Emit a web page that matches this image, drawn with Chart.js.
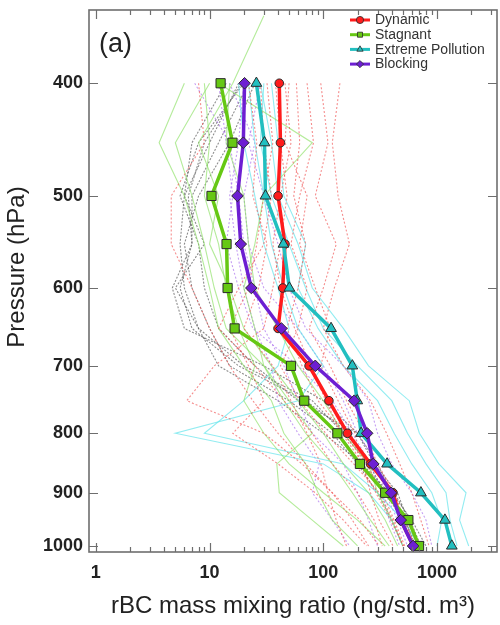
<!DOCTYPE html>
<html lang="en">
<head>
<meta charset="UTF-8">
<title>rBC profiles</title>
<script src="https://cdn.jsdelivr.net/npm/chart.js"></script>
<style>
  html, body { margin: 0; padding: 0; background: #fff; }
</style>
</head>
<body>
<canvas id="profiles" width="500" height="625"></canvas>
<script>
// pressure levels (hPa), first one only used by a single case
const levels = [350, 400, 450, 500, 550, 600, 650, 700, 750, 800, 850, 900, 950, 1000];
const yTicks = [400, 500, 600, 700, 800, 900, 1000];
const xTicks = [1, 10, 100, 1000];

// mean profiles per regime (ng/std. m3)
const dynamic    = [null, 41, 42, 40, 46, 44, 40, 75, 112, 163, 260, 410, 480, 620];
const stagnant   = [null, 12.5, 15.9, 10.4, 14.1, 14.4, 16.6, 52, 68, 133, 210, 350, 560, 695];
const extreme    = [null, 25.8, 30.4, 31, 44.6, 50.3, 117, 180, 199, 215, 364, 722, 1174, 1350];
const blocking   = [null, 20.3, 19.8, 17.6, 18.8, 23.3, 42.8, 85, 187, 243, 275, 395, 480, 616];

// individual flights behind the means
const dynamicCases = [
  [null, 58, 62, 55, 70, 60, 48, 65, 90, 150, 240, 330, 420, 520],
  [null, 95, 110, 85, 130, 100, 75, 115, 160, 230, 300, 420, 520, 640],
  [null, 140, 120, 135, 170, 125, 100, 150, 260, 360, 470, 600, 720, 850],
  [null, 32, 36, 30, 26, 22, 15, 22, 30, 16, 40, 85, 150, 240],
  [null, 38, 42, 48, 42, 36, 30, 11, 6.3, 30, 65, 120, 210, 310],
  [null, 8, 9, 4.6, 4.6, 7, 10, 15, 24, 40, 70, 120, 180, 250],
  [null, 50, 46, 72, 62, 85, 115, 95, 135, 190, 210, 290, 390, 510],
  [null, 46, 52, 42, 36, 42, 56, 78, 105, 145, 225, 260, 310, 410],
  [null, 22, 26, 24, 32, 27, 20, 36, 52, 72, 95, 110, 130, 160],
  [null, 72, 82, 62, 52, 72, 60, 42, 62, 105, 185, 310, 410, 500],
  [null, 28, 30, 35, 30, 18, 12, 25, 45, 80, 120, 200, 280, 330]
];
const stagnantCases = [
  [30, 16, 8, 12, 10, 15, 20, 35, 60, 100, 150, 250, 350, 450],
  [null, 6, 3.6, 6, 8, 10, 12, 20, 35, 45, 70, 90, 120, 200],
  [null, 12, 80, 30, 25, 20, 25, 30, 50, 80, 39, 41, 80, 150],
  [null, 9, 10, 9, 12, 14, 18, 25, 20, 30, 50, 100, 200, 350],
  [null, 15, 14, 20, 22, 25, 40, 60, 100, 150, 250, 300, 400, 500],
  [null, 10, 5, 7, 9, 11, 14, 30, 45, 70, 120, 180, 260, 380]
];
const extremeCases = [
  [null, 28, 35, 40, 60, 80, 150, 250, 570, 700, 1040, 1800, 1580, 1900],
  [null, 22, 25, 30, 35, 45, 60, 100, 60, 5, 100, 250, 400, 500],
  [null, 18, 20, 25, 30, 40, 50, 40, 20, 9, 150, 300, 500, 700],
  [null, 30, 28, 35, 50, 70, 100, 200, 400, 550, 800, 1200, 1300, 1500],
  [null, 35, 40, 45, 70, 60, 90, 150, 300, 420, 600, 900, 1100, 1000]
];
const blockingCases = [
  [null, 15, 25, 20, 22, 30, 60, 100, 150, 200, 300, 350, 450, 550],
  [null, 7.4, 15, 18, 20, 25, 30, 45, 60, 80, 150, 200, 250, 300],
  [null, 28, 22, 30, 40, 50, 70, 150, 250, 300, 400, 600, 800, 900],
  [null, 20, 18, 15, 17, 20, 25, 35, 40, 60, 92, 80, 120, 170],
  [null, 12, 14, 16, 14, 18, 24, 60, 120, 180, 260, 330, 380, 470]
];
const otherCases = [
  [null, 18, 10, 6, 5.5, 6, 8, 20, 80, 150, 250, 350, 500, 700],
  [null, 22, 12, 7, 7, 4.7, 6, 30, 100, 200, 300, 400, 600, 800],
  [null, 25, 15, 8, 6, 7, 10, 15, 50, 120, 200, 300, 400, 500],
  [null, 20, 8, 5.5, 8, 9, 12, 25, 60, 200, 280, 450, 550, 600],
  [null, 14, 7, 6, 9, 5, 8, 12, 40, 100, 220, 380, 520, 650],
  [null, 19, 9, 6.5, 7, 5.5, 7, 18, 70, 170, 260, 420, 580, 720]
];

const FONT = "'Liberation Sans', Arial, sans-serif";

function toPoints(vals) {
  return levels.map((p, i) => vals[i] == null ? null : { x: vals[i], y: p }).filter(Boolean);
}

function caseSets(list, color, dash) {
  return list.map(v => ({
    data: toPoints(v),
    borderColor: color,
    borderWidth: 1.1,
    borderDash: dash,
    pointRadius: 0,
    order: 10
  }));
}

function mainSet(label, vals, color, style, radius, order) {
  return {
    label: label,
    data: toPoints(vals),
    borderColor: color,
    backgroundColor: color,
    borderWidth: 3.5,
    pointStyle: style,
    pointRadius: radius,
    pointBorderColor: '#2b2b2b',
    pointBorderWidth: 1,
    pointBackgroundColor: color,
    order: order
  };
}

const mains = [
  mainSet('Dynamic', dynamic, '#ff1c1c', 'circle', 4.3, 3),
  mainSet('Stagnant', stagnant, '#66c814', 'rect', 6.5, 2),
  mainSet('Extreme Pollution', extreme, '#22bfc0', 'triangle', 6.2, 1),
  mainSet('Blocking', blocking, '#6d1fd2', 'rectRot', 5.8, 0)
];

const datasets = [].concat(
  caseSets(dynamicCases, 'rgba(240,80,80,0.65)', [2, 2]),
  caseSets(stagnantCases, 'rgba(140,225,100,0.65)', []),
  caseSets(extremeCases, 'rgba(100,228,235,0.7)', []),
  caseSets(blockingCases, 'rgba(160,95,235,0.6)', [2, 2]),
  caseSets(otherCases, 'rgba(80,80,80,0.65)', [2, 1.5]),
  mains
);

function marker(ctx, style, x, y, r) {
  ctx.beginPath();
  if (style === 'circle') {
    ctx.arc(x, y, r, 0, Math.PI * 2);
  } else if (style === 'rect') {
    ctx.rect(x - r * 0.7, y - r * 0.7, r * 1.4, r * 1.4);
  } else if (style === 'triangle') {
    ctx.moveTo(x, y - r);
    ctx.lineTo(x + r * 0.87, y + r * 0.5);
    ctx.lineTo(x - r * 0.87, y + r * 0.5);
    ctx.closePath();
  } else {
    ctx.moveTo(x, y - r); ctx.lineTo(x + r, y); ctx.lineTo(x, y + r); ctx.lineTo(x - r, y);
    ctx.closePath();
  }
  ctx.fill();
  ctx.stroke();
}

// frame with inner ticks, y title, panel letter and legend
const decor = {
  id: 'decor',
  afterDraw(chart) {
    const { ctx, chartArea: a, scales: { x, y } } = chart;
    ctx.save();
    ctx.strokeStyle = '#6e6e6e';
    ctx.lineWidth = 1.6;
    ctx.strokeRect(a.left, a.top, a.right - a.left, a.bottom - a.top);

    ctx.lineWidth = 1.2;
    ctx.beginPath();
    for (let d = 1; d <= 1000; d *= 10) {
      for (let k = 1; k < 10; k++) {
        const v = d * k;
        if (v > x.max) break;
        const px = Math.round(x.getPixelForValue(v)) + 0.5;
        const len = k === 1 ? 9 : 5;
        ctx.moveTo(px, a.bottom); ctx.lineTo(px, a.bottom - len);
        ctx.moveTo(px, a.top); ctx.lineTo(px, a.top + len);
      }
    }
    yTicks.forEach(p => {
      const py = Math.round(y.getPixelForValue(p)) + 0.5;
      ctx.moveTo(a.left, py); ctx.lineTo(a.left + 9, py);
      ctx.moveTo(a.right, py); ctx.lineTo(a.right - 9, py);
    });
    ctx.stroke();

    ctx.fillStyle = '#222';
    ctx.font = '24px ' + FONT;
    ctx.textAlign = 'center';
    ctx.textBaseline = 'middle';
    ctx.save();
    ctx.translate(17, 267);
    ctx.rotate(-Math.PI / 2);
    ctx.fillText('Pressure (hPa)', 0, 0);
    ctx.restore();

    ctx.textAlign = 'left';
    ctx.textBaseline = 'alphabetic';
    ctx.font = '27px ' + FONT;
    ctx.fillText('(a)', 99, 52);

    ctx.font = '14px ' + FONT;
    ctx.textBaseline = 'middle';
    mains.forEach((ds, i) => {
      const ly = 20 + i * 14.7;
      ctx.strokeStyle = ds.borderColor;
      ctx.lineWidth = 3;
      ctx.beginPath();
      ctx.moveTo(350, ly); ctx.lineTo(370, ly);
      ctx.stroke();
      ctx.fillStyle = ds.borderColor;
      ctx.strokeStyle = '#2b2b2b';
      ctx.lineWidth = 0.8;
      marker(ctx, ds.pointStyle, 360, ly, 3.6);
      ctx.fillStyle = '#333';
      ctx.fillText(ds.label, 375, ly + 0.5);
    });
    ctx.restore();
  }
};

new Chart(document.getElementById('profiles'), {
  type: 'line',
  data: { datasets: datasets },
  options: {
    responsive: false,
    animation: false,
    layout: { autoPadding: false, padding: { top: 10, right: 3, left: 0, bottom: 0 } },
    plugins: {
      legend: { display: false },
      tooltip: { enabled: false }
    },
    scales: {
      x: {
        type: 'logarithmic',
        min: 0.87,
        max: 3370,
        afterBuildTicks: s => { s.ticks = xTicks.map(v => ({ value: v })); },
        afterFit: s => { s.height = 73; s.paddingLeft = 0; s.paddingRight = 0; },
        grid: { display: false, drawTicks: false },
        border: { display: false },
        ticks: {
          padding: 10,
          maxRotation: 0,
          autoSkip: false,
          color: '#222',
          font: { family: FONT, size: 18, weight: 'bold' },
          callback: v => String(v)
        },
        title: {
          display: true,
          text: 'rBC mass mixing ratio (ng/std. m³)',
          color: '#222',
          font: { family: FONT, size: 24 },
          padding: { top: 0, bottom: 4 }
        }
      },
      y: {
        type: 'logarithmic',
        reverse: true,
        min: 346,
        max: 1012,
        afterBuildTicks: s => { s.ticks = yTicks.map(v => ({ value: v })); },
        afterFit: s => { s.width = 89; s.paddingTop = 0; s.paddingBottom = 0; },
        grid: { display: false, drawTicks: false },
        border: { display: false },
        ticks: {
          padding: 6,
          autoSkip: false,
          color: '#222',
          font: { family: FONT, size: 18, weight: 'bold' },
          callback: v => String(v)
        }
      }
    }
  },
  plugins: [decor]
});
</script>
</body>
</html>
